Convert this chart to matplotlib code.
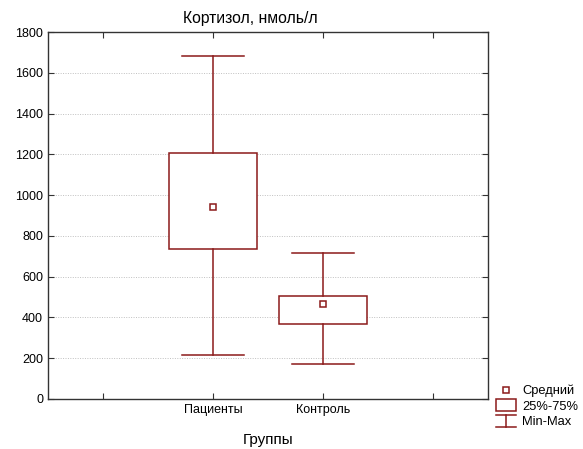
import matplotlib
matplotlib.use('Agg')
import matplotlib.pyplot as plt
from matplotlib.patches import Rectangle
from matplotlib.lines import Line2D
from matplotlib.legend_handler import HandlerBase

# Данные (оценка по графику)
groups = ['Пациенты', 'Контроль']
group_pos = [2, 3]
mean_vals = [943, 465]
q25_vals = [735, 367]
q75_vals = [1207, 503]
min_vals = [218, 170]
max_vals = [1680, 715]

col = '#8B1A1A'
plt.rcParams['font.family'] = ['Liberation Sans', 'DejaVu Sans']

fig = plt.figure(figsize=(5.83, 4.49), dpi=100)
ax = fig.add_axes([0.0823, 0.1114, 0.7547, 0.8173])

box_w = 0.8
cap_w = 0.56
for x, m, q1, q3, lo, hi in zip(group_pos, mean_vals, q25_vals, q75_vals, min_vals, max_vals):
    ax.add_patch(Rectangle((x - box_w / 2, q1), box_w, q3 - q1,
                           facecolor='white', edgecolor=col, lw=1.1, zorder=3))
    ax.plot([x, x], [q3, hi], color=col, lw=1.1, zorder=3)
    ax.plot([x, x], [lo, q1], color=col, lw=1.1, zorder=3)
    ax.plot([x - cap_w / 2, x + cap_w / 2], [hi, hi], color=col, lw=1.1, zorder=3)
    ax.plot([x - cap_w / 2, x + cap_w / 2], [lo, lo], color=col, lw=1.1, zorder=3)
    ax.plot([x], [m], marker='s', ms=5, mfc='white', mec=col, mew=1.1, ls='none', zorder=4)

ax.set_xlim(0.5, 4.5)
ax.set_ylim(0, 1800)
ax.set_xticks([1, 2, 3, 4])
ax.set_xticklabels(['', groups[0], groups[1], ''])
ax.set_yticks(range(0, 1801, 200))
ax.yaxis.grid(True, color='#c0c0c0', ls=(0, (1, 1.5)), lw=0.7)
ax.set_axisbelow(True)
ax.tick_params(direction='in', top=True, right=True, labelsize=9, length=4, color='#333333')
for s in ax.spines.values():
    s.set_color('#333333')
    s.set_linewidth(1.0)

fig.text(250 / 583, 1 - 23 / 449, 'Кортизол, нмоль/л', fontsize=11.3,
         ha='center', va='baseline')
ax.set_xlabel('Группы', fontsize=11, labelpad=12)


class WhiskerHandler(HandlerBase):
    def create_artists(self, legend, orig_handle, xd, yd, w, h, fontsize, trans):
        cx = xd + w / 2
        l1 = Line2D([xd, xd + w], [yd + h + 1, yd + h + 1], color=col, lw=1.1, transform=trans)
        l2 = Line2D([xd, xd + w], [yd - 1.5, yd - 1.5], color=col, lw=1.1, transform=trans)
        l3 = Line2D([cx, cx], [yd - 1.5, yd + h + 1], color=col, lw=1.1, transform=trans)
        return [l1, l2, l3]


class BoxHandler(HandlerBase):
    def create_artists(self, legend, orig_handle, xd, yd, w, h, fontsize, trans):
        r = Rectangle((xd, yd - 1), w, h + 2, facecolor='white', edgecolor=col,
                      lw=1.1, transform=trans)
        return [r]


mean_h = Line2D([], [], marker='s', ms=5, mfc='white', mec=col, mew=1.1, ls='none')
box_h = Rectangle((0, 0), 1, 1)
wh_h = Line2D([], [])
fig.legend([mean_h, box_h, wh_h], ['Средний', '25%-75%', 'Min-Max'],
           handler_map={Rectangle: BoxHandler(), wh_h: WhiskerHandler()},
           loc='lower left', bbox_to_anchor=(496 / 583, 1 - 428 / 449), frameon=False,
           fontsize=9.3, handlelength=1.55, handletextpad=0.5, labelspacing=0.25,
           borderaxespad=0, borderpad=0)

fig.savefig('out.png', dpi=100)
